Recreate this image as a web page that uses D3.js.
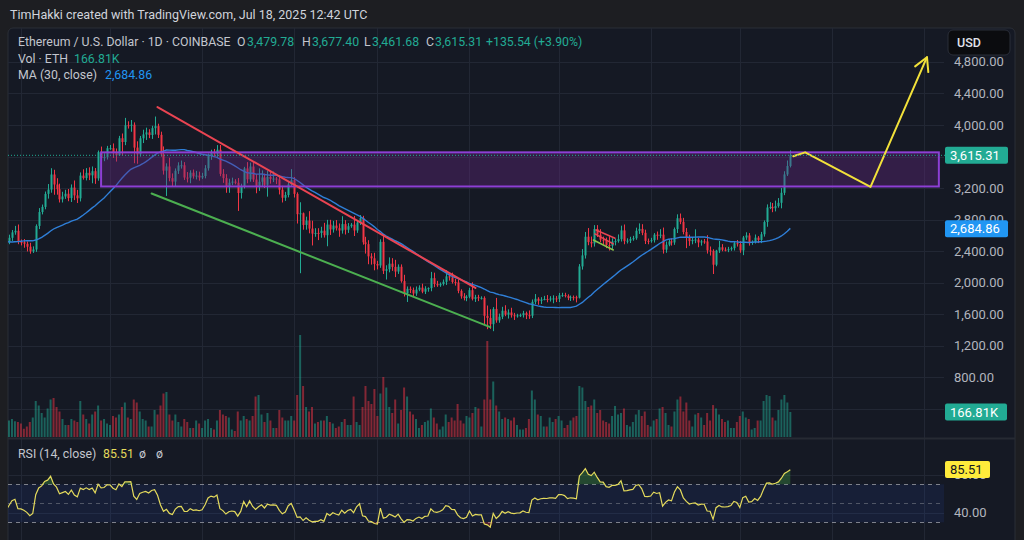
<!DOCTYPE html>
<html>
<head>
<meta charset="utf-8">
<script src="https://cdn.jsdelivr.net/npm/d3@7"></script>
<style>
  html, body { margin: 0; padding: 0; background: #1d1e22; }
  svg { display: block; font-family: Roboto, "Noto Sans", sans-serif; }
</style>
</head>
<body>
<svg id="chart" width="1024" height="540"></svg>
<script>
// ---- data (ETH/USD daily, Coinbase) ----
// closes before the first visible bar, only used to warm up MA(30) and RSI(14)
const preCloses = [2677, 2658, 2603, 2447, 2364, 2349, 2414, 2414, 2440, 2422,
  2440, 2370, 2385, 2438, 2476, 2467, 2630, 2606, 2612, 2604,
  2644, 2647, 2746, 2666, 2622, 2525, 2535, 2440, 2480, 2508];

const firstDay = "2024-10-28";

const closes = [
  2569, 2638, 2658, 2518,                                                   // Oct
  2513, 2493, 2456, 2397, 2421, 2720, 2896, 2961, 3126, 3181,
  3372, 3245, 3186, 3057, 3093, 3128, 3073, 3206, 3107, 3070,
  3358, 3327, 3393, 3361, 3414, 3323, 3656, 3581, 3592, 3705,               // Nov
  3706, 3642, 3616, 3832, 3784, 3997, 3994, 4003, 3713, 3628,
  3831, 3880, 3906, 3873, 3960, 3986, 3875, 3628, 3421, 3474,
  3326, 3282, 3419, 3487, 3489, 3333, 3331, 3395, 3349, 3358, 3334,         // Dec
  3353, 3451, 3608, 3656, 3635, 3686, 3380, 3326, 3220, 3268,
  3282, 3267, 3137, 3225, 3449, 3311, 3473, 3308, 3214, 3280,
  3334, 3241, 3341, 3316, 3320, 3310, 3179, 3077, 3112, 3247, 3300,         // Jan
  3126, 2869, 2880, 2732, 2787, 2686, 2622, 2631, 2630, 2659,
  2602, 2737, 2675, 2724, 2691, 2662, 2743, 2671, 2716, 2736,
  2662, 2762, 2818, 2512, 2489, 2334, 2309, 2237,                           // Feb
  2218, 2518, 2150, 2171, 2241, 2200, 2141, 2202, 2020, 1865,
  1922, 1908, 1863, 1912, 1937, 1886, 1925, 1931, 2057, 1983,
  1967, 1983, 2011, 2080, 2067, 2009, 2003, 1896, 1827, 1805, 1822,         // Mar
  1905, 1795, 1816, 1806, 1807, 1580, 1553, 1474, 1667, 1522,
  1568, 1644, 1595, 1622, 1587, 1577, 1585, 1588, 1613, 1588,
  1581, 1757, 1796, 1770, 1786, 1793, 1791, 1799, 1800, 1794,               // Apr
  1840, 1842, 1833, 1808, 1817, 1815, 1810, 2206, 2346, 2583,
  2515, 2498, 2680, 2609, 2545, 2542, 2478, 2468, 2523, 2527,
  2552, 2663, 2527, 2533, 2552, 2564, 2658, 2682, 2632, 2530, 2527,         // May
  2539, 2609, 2594, 2609, 2419, 2482, 2523, 2510, 2680, 2817,
  2772, 2643, 2578, 2527, 2541, 2547, 2510, 2524, 2523, 2409,
  2404, 2228, 2407, 2449, 2418, 2417, 2424, 2438, 2501, 2488,               // Jun
  2409, 2573, 2599, 2510, 2517, 2571, 2542, 2614, 2769, 2953,
  2961, 2944, 2971, 3013, 3140, 3373, 3479.78, 3615.31                      // Jul
];

// high above max(open, close)
const wickUp = [
  40, 30, 62, 80,
  30, 40, 30, 50, 40, 20, 50, 30, 30, 70, 80, 60, 80, 70, 60, 50, 60, 40, 90, 70, 40, 80, 60, 70, 60, 40, 20, 70, 50, 30,
  40, 60, 60, 30, 60, 93, 50, 60, 30, 80, 30, 60, 60, 40, 30, 121, 30, 40, 100, 40, 110, 60, 30, 40, 60, 40, 70, 30, 40, 60, 50,
  40, 40, 30, 30, 40, 59, 60, 60, 50, 50, 50, 30, 60, 30, 20, 80, 50, 60, 70, 170, 90, 50, 80, 80, 90, 20, 40, 50, 40, 30, 140,
  40, 20, 140, 10, 50, 120, 100, 60, 60, 50, 100, 60, 60, 60, 70, 60, 100, 50, 40, 20, 110, 20, 40, 30, 70, 50, 40, 70,
  40, 32, 100, 50, 80, 70, 90, 30, 30, 80, 30, 30, 30, 40, 30, 50, 30, 10, 80, 70, 40, 20, 30, 80, 30, 60, 40, 40, 20, 40, 20,
  30, 100, 30, 30, 20, 20, 130, 110, 23, 140, 40, 50, 70, 40, 60, 30, 20, 20, 30, 20, 60, 30, 60, 20, 30, 40, 50, 30, 40, 30,
  30, 30, 30, 20, 20, 20, 20, 30, 80, 60, 110, 70, 50, 50, 70, 40, 30, 110, 40, 30, 60, 60, 75, 30, 30, 30, 40, 70, 60, 40, 30,
  30, 20, 40, 70, 90, 40, 30, 40, 20, 50, 60, 50, 50, 30, 30, 130, 20, 20, 30, 80, 50, 20, 10, 80, 40, 30, 30, 20, 20, 40,
  40, 20, 40, 30, 20, 40, 20, 30, 20, 40, 60, 50, 70, 60, 60, 40, 70, 62.09
];

// low below min(open, close)
const wickDn = [
  20, 40, 30, 30,
  40, 50, 60, 30, 20, 30, 40, 30, 30, 60, 40, 130, 70, 40, 40, 30, 40, 50, 60, 60, 40, 20, 30, 60, 100, 70, 30, 40, 40, 30,
  20, 60, 80, 10, 170, 40, 40, 80, 198, 120, 30, 60, 70, 40, 50, 80, 40, 30, 50, 321, 40, 60, 60, 40, 40, 30, 60, 70, 30, 40, 40,
  20, 30, 30, 50, 40, 40, 30, 60, 80, 80, 30, 20, 227, 70, 30, 50, 30, 30, 80, 50, 60, 40, 150, 60, 40, 60, 60, 60, 40, 30, 20,
  46, 119, 749, 60, 60, 60, 150, 40, 90, 60, 30, 140, 70, 40, 30, 80, 40, 60, 40, 20, 70, 30, 30, 30, 120, 100, 80, 80,
  50, 30, 40, 110, 40, 50, 70, 30, 20, 40, 110, 40, 40, 30, 20, 20, 30, 40, 40, 40, 20, 20, 20, 40, 40, 20, 40, 30, 30, 30, 40,
  20, 20, 40, 40, 20, 120, 143, 60, 89, 30, 30, 30, 20, 50, 30, 50, 20, 20, 30, 50, 40, 30, 30, 50, 40, 10, 40, 30, 60, 40,
  40, 20, 20, 30, 40, 40, 60, 10, 40, 40, 40, 50, 40, 30, 30, 60, 40, 60, 40, 50, 20, 30, 40, 30, 30, 20, 20, 40, 30, 40, 40,
  20, 30, 50, 30, 50, 40, 20, 40, 30, 50, 30, 30, 140, 60, 40, 40, 60, 40, 30, 40, 60, 118, 20, 30, 20, 20, 30, 20, 30, 30,
  30, 60, 30, 40, 30, 20, 40, 40, 30, 60, 20, 50, 40, 20, 70, 30, 20, 18.1
];

// volume in thousands of ETH
const volumes = [
  110, 120, 105, 100,
  90, 55, 70, 100, 130, 240, 210, 160, 130, 190, 250, 260, 200, 170, 120, 80, 80, 120, 110, 100, 240, 150, 120, 90, 150, 170, 210, 110, 120, 90,
  80, 140, 130, 150, 200, 230, 130, 120, 250, 230, 170, 120, 110, 70, 70, 180, 150, 210, 290, 300, 150, 110, 150, 100, 70, 120, 100, 60, 60, 110, 90,
  60, 110, 120, 60, 50, 110, 180, 150, 140, 130, 50, 40, 170, 110, 140, 120, 110, 140, 270, 280, 150, 100, 160, 110, 60, 60, 180, 130, 110, 110, 140,
  110, 280, 680, 340, 200, 170, 200, 90, 100, 110, 110, 140, 100, 90, 60, 70, 100, 120, 80, 80, 270, 100, 80, 200, 340, 240, 220, 320,
  140, 290, 400, 330, 200, 160, 250, 90, 180, 330, 270, 170, 150, 120, 60, 80, 100, 110, 190, 130, 90, 50, 70, 150, 100, 130, 110, 220, 110, 90, 140,
  130, 160, 200, 190, 70, 250, 640, 250, 370, 210, 170, 120, 130, 120, 110, 130, 80, 50, 50, 60, 120, 310, 250, 150, 140, 70, 70, 130, 100, 120,
  140, 110, 60, 80, 110, 130, 140, 340, 330, 240, 200, 210, 250, 160, 180, 110, 100, 90, 140, 207, 150, 160, 190, 80, 70, 100, 150, 180, 140, 170, 80,
  70, 110, 120, 190, 200, 160, 80, 70, 170, 250, 270, 170, 230, 110, 70, 150, 160, 130, 80, 160, 110, 213, 190, 150, 120, 100, 110, 60, 60, 100,
  140, 170, 130, 120, 50, 60, 110, 110, 240, 280, 273, 130, 110, 180, 250, 280, 230, 166.81
];

const priceTicks = [400, 800, 1200, 1600, 2000, 2400, 2800, 3200, 3600, 4000, 4400, 4800];
const rsiTicks = [40, 80];
const rsiLevels = [70, 50, 30];

// drawings on the chart
const zoneDates = ["2024-11-28", "2025-09-06"];
const zonePrices = [3653, 3220];
const resistLine = [["2024-12-17", 4227], ["2025-04-03", 1934]];
const supportLine = [["2024-12-15", 3131], ["2025-04-08", 1437]];
const flagTop = [["2025-05-13T14:00", 2668], ["2025-05-20T00:00", 2563]];
const flagBottom = [["2025-05-13T05:00", 2618], ["2025-05-19T10:00", 2491]];
const flagSupport = [["2025-05-12T17:00", 2541], ["2025-05-19T10:00", 2415]];
const projection = [["2025-07-19", 3603], ["2025-07-23", 3653], ["2025-08-14", 3215], ["2025-09-02", 4860]];

const legend = {
  title: "TimHakki created with TradingView.com, Jul 18, 2025 12:42 UTC",
  open: "3,479.78", high: "3,677.40", low: "3,461.68", close: "3,615.31",
  change: "+135.54 (+3.90%)", vol: "166.81K", ma: "2,684.86", rsi: "85.51"
};

if (closes.length !== wickUp.length || closes.length !== wickDn.length || closes.length !== volumes.length) {
  throw new Error(`length mismatch ${closes.length} ${wickUp.length} ${wickDn.length} ${volumes.length}`);
}

// ---- setup ----
const W = 1024, H = 540;
const plotL = 8, plotR = 944, mainTop = 28, mainBot = 437, rsiTop = 440;
const UP = "#22ab94", DOWN = "#f23645";
const parse = d3.isoParse;

const x = d3.scaleUtc()
  .domain([Date.UTC(2024, 11, 1), Date.UTC(2025, 8, 1)])
  .range([110, 924]);
const y = d3.scaleLinear().domain([800, 4800]).range([377.3, 61.9]);
const yVol = d3.scaleLinear().domain([0, 680]).range([mainBot, 335]);
const yRsi = d3.scaleLinear().domain([30, 70]).range([522.3, 484.3]);

const start = parse(firstDay);
const all = preCloses.concat(closes);

const candles = closes.map((c, i) => {
  const o = i === 0 ? preCloses[preCloses.length - 1] : closes[i - 1];
  return {
    date: d3.utcDay.offset(start, i), o, c,
    h: Math.max(o, c) + wickUp[i],
    l: Math.min(o, c) - wickDn[i],
    v: volumes[i]
  };
});

// MA(30) and RSI(14, Wilder) from the closes
const rsiAll = [];
let avgG = 0, avgL = 0;
for (let g = 1; g < all.length; g++) {
  const ch = all[g] - all[g - 1];
  const gain = Math.max(ch, 0), loss = Math.max(-ch, 0);
  if (g <= 14) { avgG += gain / 14; avgL += loss / 14; }
  else { avgG = (avgG * 13 + gain) / 14; avgL = (avgL * 13 + loss) / 14; }
  rsiAll[g] = g >= 14 ? 100 - 100 / (1 + avgG / avgL) : null;
}
const series = d3.range(29, all.length).map(g => ({
  date: d3.utcDay.offset(start, g - 30),
  ma: d3.mean(all.slice(g - 29, g + 1)),
  rsi: rsiAll[g]
}));

const svg = d3.select("#chart");

svg.append("rect").attr("width", W).attr("height", H).attr("fill", "#1d1e22");
svg.append("rect")
  .attr("x", 8).attr("y", 28).attr("width", 1007).attr("height", 530).attr("rx", 5)
  .attr("fill", "#151924").attr("stroke", "#2b2e36");

const defs = svg.append("defs");
defs.append("clipPath").attr("id", "clipMain")
  .append("rect").attr("x", plotL).attr("y", mainTop).attr("width", plotR - plotL).attr("height", mainBot - mainTop);
defs.append("clipPath").attr("id", "clipRsi")
  .append("rect").attr("x", plotL).attr("y", rsiTop).attr("width", plotR - plotL).attr("height", H - rsiTop);

// ---- grid ----
const grid = svg.append("g").attr("stroke", "#222734").attr("stroke-width", 1);
const months = d3.utcMonth.range(x.invert(plotL), x.invert(plotR));
grid.selectAll(".vg").data(months).join("line")
  .attr("x1", d => Math.round(x(d)) + 0.5).attr("x2", d => Math.round(x(d)) + 0.5)
  .attr("y1", mainTop).attr("y2", H);
grid.selectAll(".hg").data(priceTicks).join("line")
  .attr("x1", plotL).attr("x2", plotR)
  .attr("y1", d => Math.round(y(d)) + 0.5).attr("y2", d => Math.round(y(d)) + 0.5);
grid.selectAll(".rg").data(rsiTicks).join("line")
  .attr("x1", plotL).attr("x2", plotR)
  .attr("y1", d => Math.round(yRsi(d)) + 0.5).attr("y2", d => Math.round(yRsi(d)) + 0.5);

// ---- main pane ----
const main = svg.append("g").attr("clip-path", "url(#clipMain)");

main.append("g").selectAll("rect").data(candles).join("rect")
  .attr("x", d => x(d.date) - 1).attr("width", 2)
  .attr("y", d => yVol(d.v)).attr("height", d => mainBot - yVol(d.v))
  .attr("fill", d => d.c >= d.o ? "rgba(34,171,148,0.5)" : "rgba(242,54,69,0.5)");

const cg = main.append("g");
cg.selectAll("line").data(candles).join("line")
  .attr("x1", d => Math.round(x(d.date)) + 0.5).attr("x2", d => Math.round(x(d.date)) + 0.5)
  .attr("y1", d => y(d.h)).attr("y2", d => y(d.l))
  .attr("stroke", d => d.c >= d.o ? UP : DOWN).attr("stroke-width", 1);
cg.selectAll("rect").data(candles).join("rect")
  .attr("x", d => Math.round(x(d.date)) - 0.5).attr("width", 2)
  .attr("y", d => y(Math.max(d.o, d.c)))
  .attr("height", d => Math.max(1, Math.abs(y(d.o) - y(d.c))))
  .attr("fill", d => d.c >= d.o ? UP : DOWN);

main.append("path").datum(series)
  .attr("fill", "none").attr("stroke", "#2f7fd8").attr("stroke-width", 1.4)
  .attr("d", d3.line().x(d => x(d.date)).y(d => y(d.ma)));

const lastClose = closes[closes.length - 1];
svg.append("line")
  .attr("x1", plotL).attr("x2", plotR + 2)
  .attr("y1", y(lastClose)).attr("y2", y(lastClose))
  .attr("stroke", UP).attr("stroke-dasharray", "1,2").attr("stroke-width", 1);

// drawings
const pt = d => [x(parse(d[0])), y(d[1])];
main.append("rect")
  .attr("x", x(parse(zoneDates[0]))).attr("y", y(zonePrices[0]))
  .attr("width", x(parse(zoneDates[1])) - x(parse(zoneDates[0])))
  .attr("height", y(zonePrices[1]) - y(zonePrices[0]))
  .attr("fill", "rgba(100,40,130,0.38)").attr("stroke", "#8d3fd4").attr("stroke-width", 2);

const seg = (pts, color, w) => main.append("path")
  .attr("d", d3.line()(pts.map(pt)))
  .attr("fill", "none").attr("stroke", color).attr("stroke-width", w)
  .attr("stroke-linejoin", "round").attr("stroke-linecap", "round");
seg(resistLine, "#ea4452", 2);
seg(supportLine, "#4caf50", 2);
seg(flagTop, "#ea4452", 1.5);
seg(flagBottom, "#ea4452", 1.5);
seg(flagSupport, "#8bc34a", 1.5);
seg(projection, "#f2e13a", 2);

// arrow head at the end of the projection
const pp = projection.map(pt);
const tip = pp[pp.length - 1], prev = pp[pp.length - 2];
const ang = Math.atan2(prev[1] - tip[1], prev[0] - tip[0]);
const head = [ang - 0.5, ang + 0.5].map(a => [tip[0] + 15 * Math.cos(a), tip[1] + 15 * Math.sin(a)]);
main.append("path")
  .attr("d", d3.line()([head[0], tip, head[1]]))
  .attr("fill", "none").attr("stroke", "#f2e13a").attr("stroke-width", 2)
  .attr("stroke-linejoin", "round").attr("stroke-linecap", "round");

// ---- separator ----
svg.append("rect").attr("x", plotL).attr("y", mainBot + 0.5).attr("width", 1007).attr("height", 2).attr("fill", "#262a33");

// ---- RSI pane ----
const rp = svg.append("g").attr("clip-path", "url(#clipRsi)");
rp.append("rect")
  .attr("x", plotL).attr("width", plotR - plotL)
  .attr("y", yRsi(70)).attr("height", yRsi(30) - yRsi(70))
  .attr("fill", "rgba(41,98,255,0.09)");
rp.selectAll(".lvl").data(rsiLevels).join("line")
  .attr("x1", plotL).attr("x2", plotR)
  .attr("y1", d => Math.round(yRsi(d)) + 0.5).attr("y2", d => Math.round(yRsi(d)) + 0.5)
  .attr("stroke", "#8a8d96").attr("stroke-opacity", d => d === 50 ? 0.5 : 0.9)
  .attr("stroke-dasharray", "4,4");

const rsiPts = series.filter(d => d.rsi != null);
rp.append("path").datum(rsiPts)
  .attr("fill", "rgba(67,160,71,0.35)")
  .attr("d", d3.area().x(d => x(d.date)).y0(yRsi(70)).y1(d => yRsi(Math.max(70, d.rsi))));
rp.append("path").datum(rsiPts)
  .attr("fill", "rgba(242,54,69,0.3)")
  .attr("d", d3.area().x(d => x(d.date)).y0(yRsi(30)).y1(d => yRsi(Math.min(30, d.rsi))));
rp.append("path").datum(rsiPts)
  .attr("fill", "none").attr("stroke", "#e4da5c").attr("stroke-width", 1.2)
  .attr("d", d3.line().x(d => x(d.date)).y(d => yRsi(d.rsi)));

// ---- price scale ----
// the tick that sits fully under the last-price tag is not drawn (hidden there too)
const lastY = y(lastClose);
const axis = svg.append("g").attr("font-size", 13).attr("fill", "#b2b5be");
axis.selectAll(".pl").data(priceTicks.filter(d => Math.abs(y(d) - lastY) > 4)).join("text")
  .attr("x", 954).attr("y", d => y(d)).attr("dy", "0.35em")
  .text(d => d3.format(",.2f")(d));
axis.selectAll(".rl").data(rsiTicks).join("text")
  .attr("x", 954).attr("y", d => yRsi(d)).attr("dy", "0.35em")
  .text(d => d3.format(".2f")(d));

function tag(yc, w, fill, text, color) {
  svg.append("rect").attr("x", 945).attr("y", yc - 8.5).attr("width", w).attr("height", 17)
    .attr("rx", 2).attr("fill", fill);
  svg.append("text").attr("x", 950).attr("y", yc).attr("dy", "0.35em")
    .attr("font-size", 13).attr("fill", color).text(text);
}
tag(lastY, 63, UP, legend.close, "#ffffff");
tag(y(2684.86), 63, "#2196f3", legend.ma, "#ffffff");
tag(yVol(volumes[volumes.length - 1]), 62, UP, legend.vol, "#ffffff");
tag(yRsi(85.51), 45, "#ffeb3b", legend.rsi, "#131722");

svg.append("rect").attr("x", 948).attr("y", 30).attr("width", 62).attr("height", 25).attr("rx", 5)
  .attr("fill", "#0b0c0f").attr("stroke", "#2a2e39");
svg.append("text").attr("x", 957).attr("y", 43).attr("dy", "0.35em")
  .attr("font-size", 12.5).attr("font-weight", 500).attr("fill", "#e0e3eb").text("USD");

// ---- texts ----
svg.append("text").attr("x", 10).attr("y", 15).attr("dy", "0.35em")
  .attr("font-size", 12.5).attr("fill", "#d1d4dc").text(legend.title);

const GRAY = "#c3c6ce";
function label(xp, yp, txt, color) {
  svg.append("text").attr("x", xp).attr("y", yp).attr("dy", "0.35em")
    .attr("font-size", 12.3).attr("fill", color).text(txt);
}
label(18, 42, "Ethereum / U.S. Dollar · 1D · COINBASE", GRAY);
label(237, 42, "O", GRAY); label(247, 42, legend.open, UP);
label(302, 42, "H", GRAY); label(312, 42, legend.high, UP);
label(364, 42, "L", GRAY); label(372, 42, legend.low, UP);
label(426, 42, "C", GRAY); label(435, 42, legend.close, UP);
label(486, 42, legend.change, UP);
label(18, 58.5, "Vol · ETH", GRAY); label(74, 58.5, legend.vol, UP);
label(18, 74.5, "MA (30, close)", GRAY); label(105, 74.5, legend.ma, "#2196f3");
label(18, 454, "RSI (14, close)", GRAY); label(103, 454, legend.rsi, "#e4da5c");
label(139, 454, "ø", GRAY); label(156, 454, "ø", GRAY);
</script>
</body>
</html>
